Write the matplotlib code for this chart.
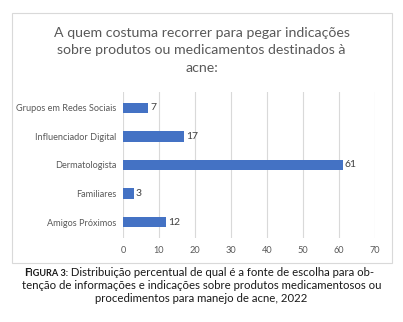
import matplotlib.pyplot as plt
from matplotlib.patches import Rectangle

categories = ['Amigos Próximos', 'Familiares', 'Dermatologista',
              'Influenciador Digital', 'Grupos em Redes Sociais']
values = [12, 3, 61, 17, 7]
xticks = [0, 10, 20, 30, 40, 50, 60, 70]

title = 'A quem costuma recorrer para pegar indicações\nsobre produtos ou medicamentos destinados à\nacne:'
caption_rest = [
    ' Distribuição percentual de qual é a fonte de escolha para ob-',
    'tenção de informações e indicações sobre produtos medicamentosos ou',
    'procedimentos para manejo de acne, 2022',
]

plt.rcParams['font.family'] = ['Lato', 'DejaVu Sans']

W, H = 403, 322
fig = plt.figure(figsize=(W / 100, H / 100), dpi=100)
fig.patch.set_facecolor('white')

# chart frame
fig.patches.append(Rectangle((12 / W, 1 - 263 / H), 380 / W, 250 / H,
                             transform=fig.transFigure, fill=False,
                             edgecolor='#d9d9d9', linewidth=0.8))

ax = fig.add_axes([123 / W, 1 - 238 / H, 252 / W, 146 / H])
ax.barh(range(len(categories)), values, height=0.36, color='#4472C4')
for i, v in enumerate(values):
    ax.text(v + 0.6, i, str(v), va='center', ha='left', fontsize=7.5, color='#404040')

ax.set_xlim(0, 70)
ax.set_ylim(-0.55, len(categories) - 0.45)
ax.set_xticks(xticks)
ax.set_yticks(range(len(categories)))
ax.set_yticklabels(categories)
ax.tick_params(axis='both', length=0, labelsize=6.6, colors='#595959')
ax.tick_params(axis='y', pad=5)
ax.tick_params(axis='x', pad=6)
ax.grid(axis='x', color='#d9d9d9', linewidth=0.8)
ax.set_axisbelow(True)
for sp in ax.spines.values():
    sp.set_visible(False)

fig.text(0.5, 1 - 27 / H, title, ha='center', va='top', fontsize=10.2,
         color='#595959', linespacing=1.55)

# caption with faux small caps
y1 = 1 - 276 / H
t1 = fig.text(24 / W, y1, 'F', fontsize=8.2, fontweight='bold', color='#1a1a1a')
t2 = fig.text(0, y1, 'IGURA 3:', fontsize=6.6, fontweight='bold', color='#1a1a1a')
fig.canvas.draw()
bb = t1.get_window_extent()
t2.set_position((bb.x1 / fig.bbox.width, y1))
fig.canvas.draw()
bb2 = t2.get_window_extent()
fig.text(bb2.x1 / fig.bbox.width, y1, caption_rest[0], fontsize=8.2, color='#1a1a1a')
fig.text(0.5, 1 - 289 / H, caption_rest[1], ha='center', fontsize=8.2, color='#1a1a1a')
fig.text(0.5, 1 - 302 / H, caption_rest[2], ha='center', fontsize=8.2, color='#1a1a1a')

fig.savefig('out.png', dpi=100, facecolor='white')
